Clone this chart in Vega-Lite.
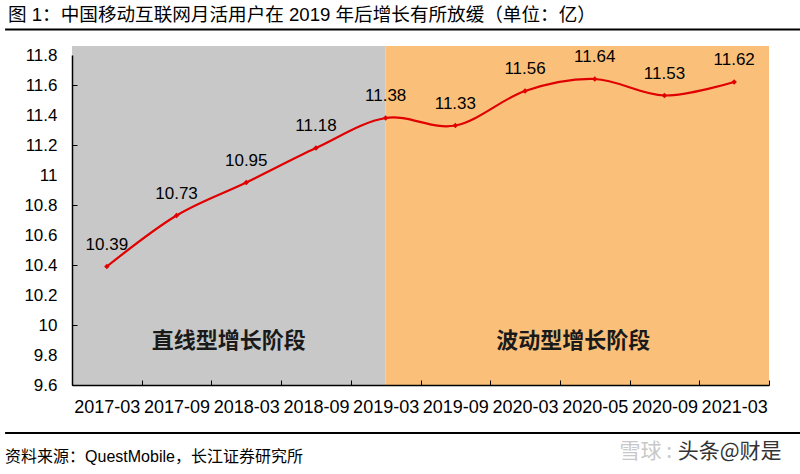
{
  "$schema": "https://vega.github.io/schema/vega-lite/v6.json",
  "width": 697,
  "height": 330,
  "autosize": {"type": "none"},
  "padding": {"left": 72, "top": 55, "right": 31, "bottom": 89},
  "background": "white",
  "config": {"view": {"stroke": null}, "font": "Liberation Sans"},
  "title": {
    "text": "图 1：中国移动互联网月活用户在 2019 年后增长有所放缓（单位：亿）",
    "anchor": "start",
    "frame": "group",
    "dx": -64,
    "offset": 4,
    "font": "Liberation Sans, Noto Sans CJK SC",
    "fontSize": 18.6,
    "fontWeight": "normal",
    "color": "#000000"
  },
  "datasets": {
    "users": [
      {"month": "2017-03", "users": 10.39},
      {"month": "2017-09", "users": 10.73},
      {"month": "2018-03", "users": 10.95},
      {"month": "2018-09", "users": 11.18},
      {"month": "2019-03", "users": 11.38},
      {"month": "2019-09", "users": 11.33},
      {"month": "2020-03", "users": 11.56},
      {"month": "2020-05", "users": 11.64},
      {"month": "2020-09", "users": 11.53},
      {"month": "2021-03", "users": 11.62}
    ],
    "note": [{"source": "资料来源：QuestMobile，长江证券研究所"}]
  },
  "layer": [
    {
      "data": {"name": "note"},
      "layer": [
        {
          "mark": {"type": "rect", "color": "#c8c8c8", "clip": false},
          "encoding": {
            "x": {"datum": -0.5, "type": "quantitative", "scale": {"domain": [-0.5, 9.5], "nice": false, "zero": false},
              "axis": {"orient": "bottom", "values": [-0.5, 0.5, 1.5, 2.5, 3.5, 4.5, 5.5, 6.5, 7.5, 8.5, 9.5], "labels": false, "domain": false, "ticks": true, "tickSize": 5, "offset": -5, "tickColor": "#000000", "tickWidth": 1, "grid": false, "title": null, "zindex": 1}},
            "x2": {"datum": 4},
            "y": {"datum": 9.6, "type": "quantitative", "scale": {"domain": [9.6, 11.8], "nice": false, "zero": false},
              "axis": {"orient": "left", "values": [9.6, 9.8, 10, 10.2, 10.4, 10.6, 10.8, 11, 11.2, 11.4, 11.6, 11.8], "labels": false, "domain": false, "ticks": true, "tickSize": 5, "offset": -5, "tickColor": "#000000", "tickWidth": 1, "grid": false, "title": null, "zindex": 1}},
            "y2": {"datum": 11.86}
          }
        },
        {
          "mark": {"type": "rect", "color": "#fac07a", "clip": false},
          "encoding": {
            "x": {"datum": 4, "type": "quantitative"},
            "x2": {"datum": 9.5},
            "y": {"datum": 9.6, "type": "quantitative"},
            "y2": {"datum": 11.86}
          }
        },
        {
          "mark": {"type": "text", "font": "Noto Sans CJK SC", "fontSize": 22, "fontWeight": "bold", "color": "#1a1a1a", "baseline": "middle", "align": "center"},
          "encoding": {
            "x": {"datum": 1.75, "type": "quantitative"},
            "y": {"datum": 9.893, "type": "quantitative"},
            "text": {"value": "直线型增长阶段"}
          }
        },
        {
          "mark": {"type": "text", "font": "Noto Sans CJK SC", "fontSize": 22, "fontWeight": "bold", "color": "#1a1a1a", "baseline": "middle", "align": "center"},
          "encoding": {
            "x": {"datum": 6.69, "type": "quantitative"},
            "y": {"datum": 9.893, "type": "quantitative"},
            "text": {"value": "波动型增长阶段"}
          }
        },
        {
          "mark": {"type": "rule", "color": "#000000", "strokeWidth": 2, "clip": false},
          "encoding": {
            "x": {"datum": -1.46, "type": "quantitative"},
            "x2": {"datum": 9.95},
            "y": {"datum": 11.97, "type": "quantitative"}
          }
        },
        {
          "mark": {"type": "rule", "color": "#000000", "strokeWidth": 2, "clip": false},
          "encoding": {
            "x": {"datum": -1.46, "type": "quantitative"},
            "x2": {"datum": 9.95},
            "y": {"datum": 9.28, "type": "quantitative"}
          }
        },
        {
          "mark": {"type": "text", "font": "Liberation Sans, Noto Sans CJK SC", "fontSize": 16, "color": "#000000", "baseline": "middle", "align": "left", "clip": false},
          "encoding": {
            "x": {"datum": -1.46, "type": "quantitative"},
            "y": {"datum": 9.12, "type": "quantitative"},
            "text": {"field": "source"}
          }
        },
        {
          "mark": {"type": "text", "font": "Noto Sans CJK SC", "fontSize": 21, "color": "#c8c8c8", "baseline": "middle", "align": "right", "clip": false},
          "encoding": {
            "x": {"datum": 8.11, "type": "quantitative"},
            "y": {"datum": 9.153, "type": "quantitative"},
            "text": {"value": "雪球 :"}
          }
        },
        {
          "mark": {"type": "text", "font": "Noto Sans CJK SC", "fontSize": 21, "color": "#333333", "baseline": "middle", "align": "right", "clip": false},
          "encoding": {
            "x": {"datum": 9.68, "type": "quantitative"},
            "y": {"datum": 9.153, "type": "quantitative"},
            "text": {"value": "头条@财是"}
          }
        }
      ]
    },
    {
      "data": {"name": "users"},
      "encoding": {
        "x": {
          "field": "month",
          "type": "ordinal",
          "sort": null,
          "scale": {"paddingInner": 0, "paddingOuter": 0},
          "axis": {
            "orient": "bottom",
            "title": null,
            "ticks": false,
            "domainColor": "#000000",
            "domainWidth": 1.5,
            "labelFont": "Liberation Sans",
            "labelFontSize": 18,
            "labelColor": "#000000",
            "labelPadding": 13,
            "labelAngle": 0,
            "zindex": 1
          }
        },
        "y": {
          "field": "users",
          "type": "quantitative",
          "scale": {"domain": [9.6, 11.8], "nice": false, "zero": false},
          "axis": {
            "orient": "left",
            "title": null,
            "values": [9.6, 9.8, 10, 10.2, 10.4, 10.6, 10.8, 11, 11.2, 11.4, 11.6, 11.8],
            "format": "~g",
            "grid": false,
            "ticks": false,
            "domainColor": "#000000",
            "domainWidth": 1.5,
            "labelFont": "Liberation Sans",
            "labelFontSize": 17,
            "labelColor": "#000000",
            "labelPadding": 15,
            "zindex": 1
          }
        }
      },
      "layer": [
        {"mark": {"type": "line", "color": "#e00000", "strokeWidth": 2.2, "interpolate": "cardinal", "tension": 0}},
        {"mark": {"type": "point", "shape": "diamond", "filled": true, "color": "#e00000", "size": 30, "opacity": 1}},
        {
          "mark": {"type": "text", "dy": -22, "fontSize": 17, "font": "Liberation Sans", "color": "#000000", "baseline": "middle"},
          "encoding": {"text": {"field": "users", "type": "quantitative", "format": ".2f"}}
        }
      ]
    }
  ],
  "resolve": {"scale": {"x": "independent", "y": "independent"}, "axis": {"x": "independent", "y": "independent"}}
}
